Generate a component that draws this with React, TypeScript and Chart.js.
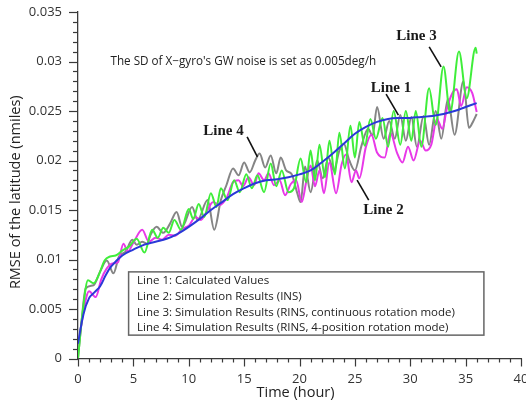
import { useEffect, useRef } from "react";
import { Chart, registerables } from "chart.js";
Chart.register(...registerables);

// Line 1: calculated values
const line1Hours = [0, 0.5, 1, 1.5, 2, 2.5, 3, 4, 5, 6, 7, 8, 9, 10, 11, 12, 13, 14, 15, 16, 17, 18, 19, 20, 21, 22, 23, 24, 25, 26, 27, 28, 29, 30, 31, 32, 33, 34, 35, 36];
const line1Rmse = [0.0015, 0.0045, 0.0061, 0.0067, 0.0073, 0.0084, 0.0093, 0.0104, 0.011, 0.0115, 0.0118, 0.0121, 0.0126, 0.0133, 0.0141, 0.015, 0.0158, 0.0166, 0.0172, 0.0177, 0.018, 0.0181, 0.0183, 0.0186, 0.019, 0.0198, 0.0207, 0.0217, 0.0227, 0.0234, 0.0239, 0.0242, 0.0243, 0.0243, 0.0244, 0.0245, 0.0247, 0.025, 0.0254, 0.0258];

// Line 2: simulation results (INS)
const line2Hours = [0, 0.5, 1.0, 1.6, 2.1, 2.6, 3.1, 3.6, 4.1, 4.5, 5.0, 5.8, 6.4, 7.0, 7.6, 8.2, 8.8, 9.4, 10.0, 10.6, 11.1, 11.6, 12.2, 12.8, 13.4, 14.0, 14.5, 14.9, 15.4, 15.9, 16.3, 16.8, 17.2, 17.7, 18.2, 18.7, 19.2, 19.7, 20.2, 20.6, 21.0, 21.4, 21.8, 22.2, 22.7, 23.3, 23.8, 24.2, 24.7, 25.1, 25.4, 26.0, 26.5, 27.0, 27.7, 28.2, 28.8, 29.3, 29.8, 30.3, 30.9, 31.4, 31.9, 32.4, 32.9, 33.3, 33.8, 34.2, 34.6, 35.1, 35.6, 36.0];
const line2Rmse = [0.001, 0.0048, 0.0068, 0.0062, 0.008, 0.0091, 0.0096, 0.0097, 0.0116, 0.0108, 0.0117, 0.013, 0.0118, 0.0122, 0.012, 0.0125, 0.0124, 0.0131, 0.0134, 0.0143, 0.014, 0.0148, 0.0158, 0.0155, 0.0162, 0.0178, 0.018, 0.0174, 0.0183, 0.0175, 0.0187, 0.018, 0.0187, 0.0175, 0.018, 0.0165, 0.0176, 0.018, 0.0158, 0.0178, 0.0195, 0.0174, 0.019, 0.0167, 0.0198, 0.0167, 0.0196, 0.0206, 0.0178, 0.019, 0.0182, 0.0214, 0.0226, 0.0208, 0.0203, 0.0228, 0.0208, 0.0198, 0.0214, 0.02, 0.022, 0.021, 0.0216, 0.0242, 0.0232, 0.0252, 0.0268, 0.0272, 0.0255, 0.0274, 0.0268, 0.0249];

// Line 3: simulation results (RINS, continuous rotation mode)
const line3Hours = [0, 0.4, 0.9, 1.4, 1.9, 2.4, 2.9, 3.4, 4.0, 4.6, 5.3, 6.0, 6.7, 7.2, 7.7, 8.2, 8.7, 9.3, 10.0, 10.4, 10.9, 11.4, 12.0, 12.5, 12.9, 13.5, 14.1, 14.6, 15.2, 15.7, 16.2, 16.8, 17.4, 17.9, 18.4, 19.0, 19.5, 20.1, 20.6, 21.0, 21.4, 21.8, 22.3, 22.7, 23.2, 23.6, 24.1, 24.6, 25.0, 25.4, 25.9, 26.4, 26.9, 27.5, 28.0, 28.5, 29.1, 29.6, 30.1, 30.5, 31.0, 31.7, 32.3, 33.0, 33.6, 34.4, 35.1, 35.9, 36.0];
const line3Rmse = [0, 0.0045, 0.0079, 0.0076, 0.0085, 0.0099, 0.0103, 0.0104, 0.0109, 0.0113, 0.0121, 0.0107, 0.013, 0.0122, 0.0132, 0.0127, 0.014, 0.013, 0.0151, 0.0141, 0.0156, 0.0143, 0.0167, 0.0153, 0.0172, 0.016, 0.018, 0.0168, 0.0186, 0.0172, 0.0185, 0.0168, 0.0197, 0.0174, 0.019, 0.0168, 0.0172, 0.0202, 0.0178, 0.021, 0.018, 0.0216, 0.0183, 0.022, 0.0186, 0.0228, 0.0192, 0.0235, 0.0203, 0.0239, 0.0215, 0.0242, 0.0222, 0.0243, 0.0214, 0.025, 0.0216, 0.025, 0.022, 0.025, 0.0214, 0.0273, 0.0236, 0.0295, 0.0248, 0.031, 0.0263, 0.0314, 0.0308];

// Line 4: simulation results (RINS, 4-position rotation mode)
const line4Hours = [0, 0.3, 0.7, 1.4, 2.0, 2.6, 3.2, 3.7, 4.3, 4.9, 5.3, 5.8, 6.2, 6.6, 7.1, 7.7, 8.3, 8.9, 9.4, 10.3, 10.8, 11.7, 12.3, 12.9, 13.4, 14.0, 14.5, 15.0, 15.5, 16.0, 16.4, 16.9, 17.4, 17.9, 18.3, 18.8, 19.3, 19.8, 20.1, 20.5, 21.0, 21.6, 22.1, 22.6, 23.1, 23.6, 24.0, 24.5, 25.0, 25.6, 26.2, 26.6, 27.0, 27.6, 28.1, 28.6, 29.1, 29.6, 30.1, 30.6, 31.2, 31.7, 32.3, 32.8, 33.4, 34.0, 34.8, 35.3, 35.7, 36.0];
const line4Rmse = [0, 0.0035, 0.0071, 0.0074, 0.0088, 0.0099, 0.0086, 0.0103, 0.0108, 0.012, 0.0115, 0.0118, 0.0116, 0.0126, 0.0133, 0.0127, 0.0136, 0.0148, 0.0133, 0.0153, 0.014, 0.016, 0.013, 0.016, 0.0175, 0.0192, 0.0185, 0.0198, 0.0188, 0.02, 0.0207, 0.0193, 0.0205, 0.0187, 0.0203, 0.019, 0.0186, 0.0167, 0.0158, 0.0194, 0.0168, 0.02, 0.0182, 0.0203, 0.019, 0.021, 0.0217, 0.02, 0.019, 0.0215, 0.0232, 0.0225, 0.0254, 0.0222, 0.024, 0.0222, 0.0246, 0.022, 0.0244, 0.0214, 0.0245, 0.0216, 0.025, 0.0222, 0.0262, 0.0226, 0.028, 0.0233, 0.024, 0.0247];

const legendLines = [
  "Line 1: Calculated Values",
  "Line 2: Simulation Results (INS)",
  "Line 3: Simulation Results (RINS, continuous rotation mode)",
  "Line 4: Simulation Results (RINS, 4-position rotation mode)",
];
const noteText = "The SD of X\u2212gyro's GW noise is set as 0.005deg/h";
const xTitle = "Time (hour)";
const yTitle = "RMSE of the latitude (nmiles)";

// label text, label position (hour, rmse), leader from -> to (hour, rmse)
const lineLabels = [
  { text: "Line 3", at: [30.56, 0.03256], from: [31.71, 0.03147], to: [32.79, 0.02945] },
  { text: "Line 1", at: [28.26, 0.0273], from: [27.82, 0.0267], to: [28.93, 0.02458] },
  { text: "Line 4", at: [13.13, 0.02296], from: [15.27, 0.02238], to: [16.2, 0.02036] },
  { text: "Line 2", at: [27.58, 0.01498], from: [25.2, 0.01801], to: [26.25, 0.01599] },
];

const zip = (xs: number[], ys: number[]) => xs.map((x, i) => ({ x, y: ys[i] }));

const decor = {
  id: "decor",
  afterDraw(chart: any) {
    const { ctx, chartArea: ca } = chart;
    const x = chart.scales.x;
    const y = chart.scales.y;
    ctx.save();
    // tick marks
    ctx.strokeStyle = "#3a3a3a";
    ctx.lineWidth = 1.2;
    for (let i = 0; i <= 35; i++) {
      const py = Math.round(y.getPixelForValue(i / 1000)) + 0.5;
      const len = i % 5 === 0 ? 9 : 5;
      ctx.beginPath();
      ctx.moveTo(ca.left, py);
      ctx.lineTo(ca.left - len, py);
      ctx.stroke();
    }
    for (let i = 0; i <= 40; i++) {
      const px = Math.round(x.getPixelForValue(i)) + 0.5;
      const len = i % 5 === 0 ? 8 : 4;
      ctx.beginPath();
      ctx.moveTo(px, ca.bottom);
      ctx.lineTo(px, ca.bottom + len);
      ctx.stroke();
    }
    // axis titles
    ctx.fillStyle = "#222";
    ctx.font = '500 14.5px "Open Sans"';
    ctx.textAlign = "center";
    ctx.textBaseline = "middle";
    ctx.fillText(xTitle, (ca.left + ca.right) / 2 - 4, ca.bottom + 34);
    ctx.save();
    ctx.translate(ca.left - 62, (ca.top + ca.bottom) / 2 + 7);
    ctx.rotate(-Math.PI / 2);
    ctx.fillText(yTitle, 0, 0);
    ctx.restore();
    // note
    ctx.font = '11.7px "Open Sans"';
    ctx.textAlign = "left";
    ctx.fillText(noteText, x.getPixelForValue(2.93), y.getPixelForValue(0.03));
    // line labels
    ctx.font = 'bold 15px "Liberation Serif"';
    ctx.textAlign = "center";
    ctx.lineWidth = 1.6;
    ctx.strokeStyle = "#111";
    for (const l of lineLabels) {
      ctx.fillStyle = "#1a1a1a";
      ctx.fillText(l.text, x.getPixelForValue(l.at[0]), y.getPixelForValue(l.at[1]));
      ctx.beginPath();
      ctx.moveTo(x.getPixelForValue(l.from[0]), y.getPixelForValue(l.from[1]));
      ctx.lineTo(x.getPixelForValue(l.to[0]), y.getPixelForValue(l.to[1]));
      ctx.stroke();
    }
    // legend box
    const bx0 = x.getPixelForValue(4.57);
    const bx1 = x.getPixelForValue(36.65);
    const by0 = y.getPixelForValue(0.00875);
    const by1 = y.getPixelForValue(0.00236);
    ctx.fillStyle = "#fff";
    ctx.fillRect(bx0, by0, bx1 - bx0, by1 - by0);
    ctx.strokeStyle = "#666";
    ctx.lineWidth = 1.5;
    ctx.strokeRect(bx0, by0, bx1 - bx0, by1 - by0);
    ctx.fillStyle = "#222";
    ctx.font = '11.5px "Open Sans"';
    ctx.textAlign = "left";
    const tx = x.getPixelForValue(5.33);
    const rows = [0.00781, 0.00622, 0.00465, 0.00313];
    legendLines.forEach((t, i) => ctx.fillText(t, tx, y.getPixelForValue(rows[i])));
    ctx.restore();
  },
};

export default function App() {
  const ref = useRef<HTMLCanvasElement>(null);
  useEffect(() => {
    document.body.style.margin = "0";
    const common = { pointRadius: 0, borderWidth: 2, fill: false, cubicInterpolationMode: "monotone" as const };
    const chart = new Chart(ref.current!, {
      type: "line",
      data: {
        datasets: [
          { label: "Line 1", data: zip(line1Hours, line1Rmse), borderColor: "#2a38d8", ...common, cubicInterpolationMode: "default", tension: 0.4 },
          { label: "Line 3", data: zip(line3Hours, line3Rmse), borderColor: "#3fee3a", ...common },
          { label: "Line 2", data: zip(line2Hours, line2Rmse), borderColor: "#e838e8", ...common },
          { label: "Line 4", data: zip(line4Hours, line4Rmse), borderColor: "#858585", ...common },
        ] as any,
      },
      options: {
        animation: false,
        responsive: true,
        maintainAspectRatio: false,
        layout: { padding: { left: 0, top: 12, right: 5, bottom: 0 } },
        plugins: { legend: { display: false }, tooltip: { enabled: false } },
        scales: {
          x: {
            type: "linear",
            min: 0,
            max: 40,
            grid: { display: false, drawTicks: false },
            border: { display: true, color: "#3a3a3a", width: 1.3 },
            ticks: { stepSize: 5, padding: 13, color: "#333", font: { family: "Open Sans", size: 13 }, maxRotation: 0 },
            afterFit: (s: any) => { s.height = 48.5; s.paddingLeft = 0; s.paddingRight = 0; },
          },
          y: {
            type: "linear",
            min: 0,
            max: 0.035,
            grid: { display: false, drawTicks: false },
            border: { display: true, color: "#3a3a3a", width: 1.3 },
            ticks: {
              stepSize: 0.005,
              padding: 16,
              color: "#333",
              font: { family: "Open Sans", size: 13 },
              callback: (v: any) => String(Number(Number(v).toFixed(3))),
            },
            afterFit: (s: any) => { s.width = 78; s.paddingTop = 0; s.paddingBottom = 0; },
          },
        },
      },
      plugins: [decor],
    });
    return () => chart.destroy();
  }, []);
  return (
    <div style={{ position: "relative", width: 526, height: 407, background: "#fff" }}>
      <canvas ref={ref} />
    </div>
  );
}
